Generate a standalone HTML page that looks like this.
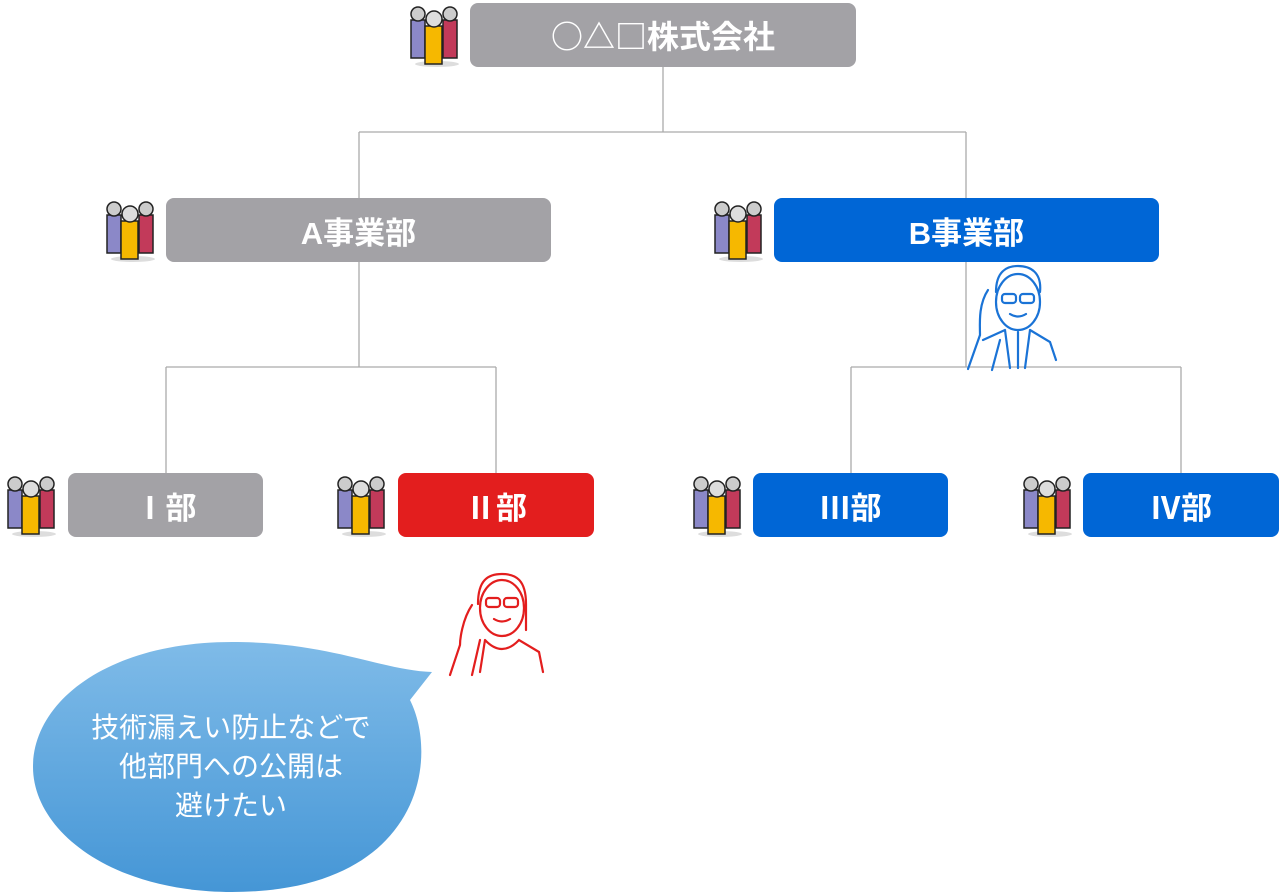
<!DOCTYPE html>
<html><head><meta charset="utf-8"><style>
body{margin:0;width:1280px;height:894px;background:#fff;position:relative;overflow:hidden;font-family:"Liberation Sans","Noto Sans CJK JP",sans-serif}
.b{position:absolute;height:64px;border-radius:8px;color:#fff;font-weight:bold;font-size:31px;display:flex;align-items:center;justify-content:center;background:#a3a2a6}
.bl{background:#0066d6}.rd{background:#e31e1e}
</style></head><body>
<svg width="1280" height="894" style="position:absolute;left:0;top:0">
<defs>
<g id="ppl">
<ellipse cx="30" cy="62" rx="22" ry="3" fill="#ddd"/>
<rect x="4" y="18" width="14" height="38" fill="#8b88c8" stroke="#222" stroke-width="1.5"/>
<circle cx="11" cy="12" r="7" fill="#ccc" stroke="#222" stroke-width="1.5"/>
<rect x="36" y="18" width="14" height="38" fill="#c23a5a" stroke="#222" stroke-width="1.5"/>
<circle cx="43" cy="12" r="7" fill="#ccc" stroke="#222" stroke-width="1.5"/>
<rect x="18" y="24" width="17" height="38" fill="#f6b800" stroke="#222" stroke-width="1.5"/>
<circle cx="27" cy="17" r="8" fill="#ddd" stroke="#222" stroke-width="1.5"/>
</g>
<linearGradient id="g" x1="0" y1="0" x2="0" y2="1"><stop offset="0" stop-color="#7fbbe8"/><stop offset="1" stop-color="#4596d6"/></linearGradient>
</defs>
<g stroke="#aaa" stroke-width="1.3" fill="none">
<path d="M663 67V132M359 132H966M359 132V198M966 132V198"/>
<path d="M359 262V367M166 367H496M166 367V473M496 367V473"/>
<path d="M966 262V367M851 367H1181M851 367V473M1181 367V473"/>
</g>
<use href="#ppl" x="407" y="2"/>
<use href="#ppl" x="103" y="197"/>
<use href="#ppl" x="711" y="197"/>
<use href="#ppl" x="4" y="472"/>
<use href="#ppl" x="334" y="472"/>
<use href="#ppl" x="690" y="472"/>
<use href="#ppl" x="1020" y="472"/>
<path d="M232 642 C330 642 380 670 432 672 L410 700 C440 760 420 892 232 892 C110 892 33 830 33 767 C33 700 110 642 232 642Z" fill="url(#g)"/>
<g stroke="#1a73d6" stroke-width="2.2" fill="none" stroke-linecap="round">
<ellipse cx="1018" cy="302" rx="22" ry="28"/>
<path d="M996 292c0-20 10-26 22-26s24 6 22 26"/>
<rect x="1002" y="294" width="14" height="9" rx="3"/><rect x="1020" y="294" width="14" height="9" rx="3"/>
<path d="M1010 314q8 5 16 0"/>
<path d="M988 290c-10 15-8 35-8 45l-12 34M1000 340l-8 30"/>
<path d="M1005 330l-22 10M1030 330l20 12 6 18M1005 330l5 38M1030 330l-5 38M1018 332v36"/>
</g>
<g stroke="#e31e1e" stroke-width="2.2" fill="none" stroke-linecap="round">
<ellipse cx="502" cy="608" rx="22" ry="28"/>
<path d="M478 604c0-24 10-30 24-30s24 6 24 30v26"/>
<rect x="486" y="598" width="14" height="9" rx="3"/><rect x="504" y="598" width="14" height="9" rx="3"/>
<path d="M494 619q8 5 16 0"/>
<path d="M472 605c-10 15-12 35-12 40l-10 30M480 640l-8 35"/>
<path d="M485 640q17 18 34 0l20 12 4 20M485 640l-5 32"/>
</g>
</svg>
<div class="b" style="left:470px;top:3px;width:386px;font-size:32px;font-family:'Noto Sans CJK JP',sans-serif">○△□株式会社</div>
<div class="b" style="left:166px;top:198px;width:385px">A事業部</div>
<div class="b bl" style="left:774px;top:198px;width:385px">B事業部</div>
<div class="b" style="left:68px;top:473px;width:195px">Ⅰ部</div>
<div class="b rd" style="left:398px;top:473px;width:196px">Ⅱ部</div>
<div class="b bl" style="left:753px;top:473px;width:195px">Ⅲ部</div>
<div class="b bl" style="left:1083px;top:473px;width:196px">Ⅳ部</div>
<div style="position:absolute;left:31px;top:708px;width:400px;text-align:center;color:#fff;font-size:28px;line-height:39px">技術漏えい防止などで<br>他部門への公開は<br>避けたい</div>
</body></html>
